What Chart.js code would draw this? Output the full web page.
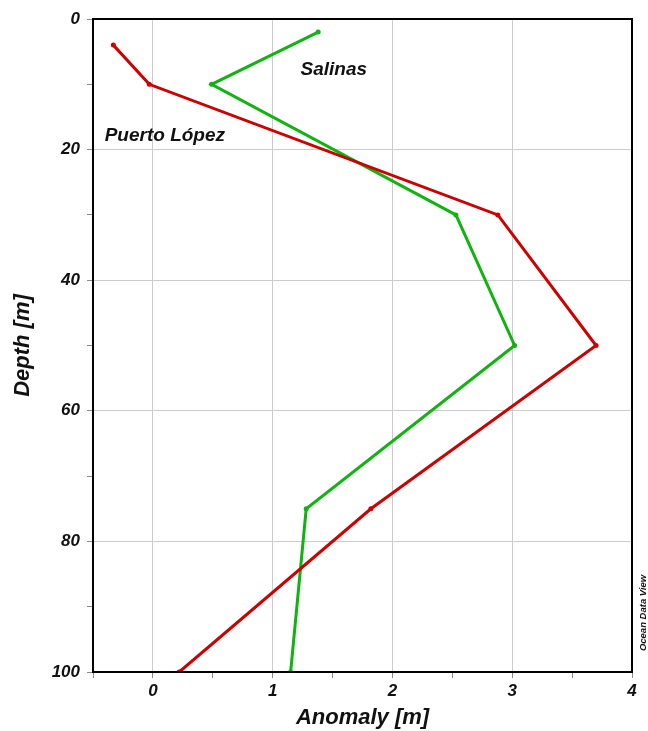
<!DOCTYPE html>
<html><head><meta charset="utf-8">
<script src="https://cdn.jsdelivr.net/npm/chart.js@4/dist/chart.umd.min.js"></script>
<style>html,body{margin:0;padding:0;background:#fff}#wrap{width:648px;height:731px}</style>
</head><body><div id="wrap"><canvas id="c" width="648" height="731"></canvas></div>
<script>
const depths = [4, 10, 30, 50, 75, 100];
const puertoLopez = [-0.33, -0.03, 2.88, 3.70, 1.82, 0.22];
const salinasDepths = [2, 10, 30, 50, 75, 100];
const salinas = [1.38, 0.49, 2.53, 3.02, 1.28, 1.15];
const xTicksMajor = [0, 1, 2, 3, 4];
const yTicksMajor = [0, 20, 40, 60, 80, 100];

const FONT = '"Liberation Sans", Arial, sans-serif';
const red = '#cc0000', green = '#11b311';

const frame = {
  id: 'frame',
  afterDraw(chart) {
    const {ctx, chartArea: a, scales} = chart;
    ctx.save();
    ctx.strokeStyle = '#000'; ctx.lineWidth = 2;
    ctx.strokeRect(a.left, a.top, a.right - a.left, a.bottom - a.top);
    ctx.fillStyle = '#111';
    ctx.font = 'italic bold 19px ' + FONT;
    ctx.textAlign = 'center'; ctx.textBaseline = 'middle';
    ctx.fillText('Salinas', scales.x.getPixelForValue(1.51), scales.y.getPixelForValue(7.7));
    ctx.fillText('Puerto López', scales.x.getPixelForValue(0.10), scales.y.getPixelForValue(17.9));
    ctx.font = 'italic bold 9.5px ' + FONT;
    ctx.translate(643, 613); ctx.rotate(-Math.PI / 2);
    ctx.fillText('Ocean Data View', 0, 0);
    ctx.restore();
  }
};

new Chart(document.getElementById('c'), {
  type: 'scatter',
  data: {
    datasets: [
      { label: 'Puerto López', data: depths.map((d, i) => ({x: puertoLopez[i], y: d})),
        showLine: true, borderColor: red, backgroundColor: red, borderWidth: 3, pointRadius: 2.5, pointBorderWidth: 0 },
      { label: 'Salinas', data: salinasDepths.map((d, i) => ({x: salinas[i], y: d})),
        showLine: true, borderColor: green, backgroundColor: green, borderWidth: 3, pointRadius: 2.5, pointBorderWidth: 0 }
    ]
  },
  options: {
    responsive: false, animation: false,
    layout: { padding: { top: 19, right: 16, left: 0, bottom: 0 } },
    plugins: { legend: { display: false }, tooltip: { enabled: false } },
    scales: {
      x: {
        type: 'linear', min: -0.5, max: 4,
        afterBuildTicks(s) { s.ticks = []; for (let v = -0.5; v <= 4.0001; v += 0.5) s.ticks.push({value: Math.round(v * 10) / 10}); },
        afterFit(s) { s.height = 59; },
        ticks: { color: '#111', font: { family: FONT, size: 17, style: 'italic', weight: 'bold' }, padding: 3,
          callback: v => xTicksMajor.includes(v) ? String(v) : '' , maxRotation: 0, autoSkip: false},
        grid: { color: c => (c.tick && xTicksMajor.includes(c.tick.value) && c.tick.value < 4) ? '#cccccc' : 'transparent',
          tickColor: '#888', tickLength: 6, lineWidth: 1 },
        border: { color: '#000', width: 2 },
        title: { display: true, text: 'Anomaly [m]', color: '#111', font: { family: FONT, size: 22, style: 'italic', weight: 'bold' }, padding: { top: 0, bottom: 0 } }
      },
      y: {
        type: 'linear', reverse: true, min: 0, max: 100,
        afterBuildTicks(s) { s.ticks = []; for (let v = 0; v <= 100; v += 10) s.ticks.push({value: v}); },
        afterFit(s) { s.width = 93; },
        ticks: { color: '#111', font: { family: FONT, size: 17, style: 'italic', weight: 'bold' }, padding: 7,
          callback: v => yTicksMajor.includes(v) ? String(v) : '', autoSkip: false },
        grid: { color: c => (c.tick && [20, 40, 60, 80].includes(c.tick.value)) ? '#cccccc' : 'transparent',
          tickColor: '#888', tickLength: 6, lineWidth: 1 },
        border: { color: '#000', width: 2 },
        title: { display: true, text: 'Depth [m]', color: '#111', font: { family: FONT, size: 22, style: 'italic', weight: 'bold' }, padding: { top: 10, bottom: 0 } }
      }
    }
  },
  plugins: [frame]
});
</script></body></html>
